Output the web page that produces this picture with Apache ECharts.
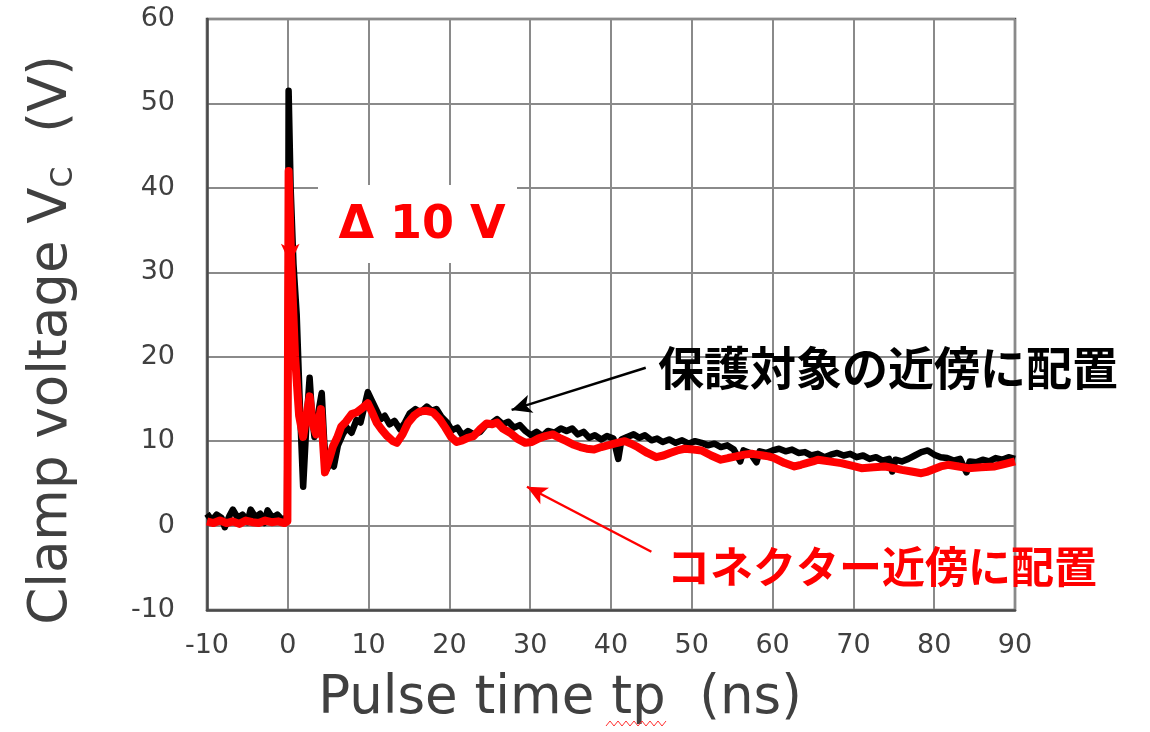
<!DOCTYPE html>
<html>
<head>
<meta charset="utf-8">
<script src="https://cdn.jsdelivr.net/npm/echarts@6/dist/echarts.min.js"></script>
<style>html,body{margin:0;padding:0;background:#fff}#c{width:1150px;height:732px}</style>
</head>
<body>
<div id="c"></div>
<script>
// ---- data ----
const xTicks = [-10, 0, 10, 20, 30, 40, 50, 60, 70, 80, 90];
const yTicks = [-10, 0, 10, 20, 30, 40, 50, 60];

const blackName = '保護対象の近傍に配置';
const redName = 'コネクター近傍に配置';

const blackTime = [-10,-9.4,-8.8,-8.2,-7.8,-7.2,-6.8,-6.2,-5.6,-5.0,-4.6,-4.0,-3.4,-2.9,-2.5,-1.9,-1.3,-0.7,-0.1,0.05,0.1,0.35,0.7,1.1,1.5,1.9,2.3,2.7,3.0,3.3,3.8,4.2,4.5,4.8,5.3,5.7,6.2,6.8,7.3,7.9,8.5,9.0,9.5,9.9,10.4,11.0,11.5,12.0,12.6,13.2,13.9,14.5,15.1,15.8,16.4,17.2,17.8,18.4,19.0,19.7,20.3,21.0,21.6,22.3,23.0,23.8,24.5,25.2,25.9,26.6,27.3,28.0,28.7,29.4,30.1,30.8,31.5,32.2,33.0,33.8,34.5,35.2,35.9,36.6,37.3,38.0,38.8,39.5,40.3,40.9,41.3,42.0,42.8,43.5,44.2,45.0,45.7,46.4,47.2,48.0,48.8,49.6,50.4,51.2,52.0,52.8,53.6,54.4,55.2,56.0,56.4,57.2,58.0,58.4,59.2,60.0,60.8,61.6,62.4,63.2,64.0,64.8,65.6,66.4,67.2,68.0,68.8,69.6,70.4,71.2,72.0,72.8,73.6,74.4,74.8,75.2,76.0,76.8,77.6,78.4,79.2,80.0,80.8,81.6,82.4,83.2,84.0,84.4,85.2,86.0,86.8,87.6,88.4,89.2,90.0];
const blackVolt = [1.4,0.6,1.3,0.9,-0.2,1.2,1.9,0.9,1.3,0.4,1.9,1.0,1.4,0.3,1.8,0.9,1.3,0.7,1.0,30,51.5,40,31,25,14,4.6,12,17.5,13,10.5,13.5,15.7,10,6.6,7.5,7.0,9.5,10.8,11.6,11.0,12.5,12.2,14.2,15.8,14.8,13.6,12.6,13.0,12.0,12.4,11.4,12.2,13.3,13.8,13.4,14.1,13.6,13.8,12.9,12.2,11.3,11.6,10.7,11.2,10.8,11.1,11.9,12.1,12.6,12.0,12.3,11.6,11.9,11.2,10.7,11.1,10.6,11.2,11.0,11.5,11.2,11.5,10.8,11.1,10.4,10.7,10.2,10.6,10.3,7.9,10.2,10.5,10.8,10.4,10.7,10.1,10.3,9.9,10.2,9.8,10.1,9.7,10.0,9.8,9.5,9.7,9.3,9.5,9.0,7.6,8.9,8.6,7.5,8.8,8.6,8.9,9.1,8.8,9.0,8.6,8.7,8.3,8.5,8.1,8.4,8.6,8.3,8.5,8.1,8.3,7.9,8.1,7.7,7.9,6.4,7.8,7.6,7.9,8.3,8.7,8.9,8.4,8.1,8.0,7.7,7.9,6.3,7.6,7.5,7.8,7.6,8.0,7.8,8.1,7.9];

const redTime = [-10,-9.2,-8.4,-7.6,-6.8,-6,-5.2,-4.4,-3.6,-2.8,-2,-1.2,-0.4,-0.05,0.1,0.4,0.9,1.4,1.9,2.3,2.7,3.1,3.5,4.1,4.6,5.1,5.6,6.1,6.6,7.2,7.9,8.5,9.2,9.9,10.5,11.0,11.6,12.3,13.0,13.5,14.2,14.9,15.6,16.3,17.1,18.0,18.8,19.5,20.2,20.9,21.6,22.3,23.0,23.8,24.6,25.3,25.9,26.6,27.5,28.4,29.4,30.2,31.0,31.9,32.8,33.6,34.5,35.3,36.2,37.0,37.9,38.8,39.6,40.4,41.7,42.5,43.3,44.5,45.6,46.5,47.3,48.2,49.1,50.2,51.2,52.4,53.6,54.5,55.5,56.5,57.4,58.1,58.8,59.5,60.2,61.5,62.7,63.5,64.2,65.0,65.6,67.0,68.5,69.8,71.0,72.5,73.9,75.0,76.0,77.2,78.4,79.2,80.0,80.8,81.7,83.0,84.2,85.8,87.5,88.8,90.0];
const redVolt = [0.5,0.3,0.6,0.3,0.5,0.2,0.6,0.4,0.3,0.6,0.4,0.5,0.3,0.5,42,32,20,13,10.5,13,15.3,12,10.8,13.8,6.3,7.8,9.4,10.4,11.7,12.3,13.2,13.4,13.9,14.5,13.3,12.2,11.4,10.6,10.0,9.8,10.8,12.2,13.0,13.5,13.6,13.4,12.6,11.6,10.5,9.9,10.1,10.4,10.6,11.4,12.1,12.0,12.2,11.5,11.0,10.3,9.8,9.9,10.3,10.6,10.8,10.4,10.0,9.6,9.3,9.1,9.0,9.3,9.5,9.7,10.0,9.7,9.3,8.6,8.1,8.3,8.6,8.9,9.1,9.0,8.9,8.3,7.8,8.0,8.2,8.4,8.5,8.4,8.3,8.2,8.0,7.4,7.0,7.2,7.4,7.6,7.8,7.6,7.4,7.1,6.8,6.9,7.0,6.8,6.6,6.4,6.2,6.4,6.7,7.0,7.2,7.0,6.8,6.9,7.0,7.3,7.6];

// annotation arrows (data coordinates: [time, volt])
const deltaArrow = [[0.3, 42], [0.3, 31]];
const blackArrow = [[44.3, 18.7], [27.7, 13.7]];
const redArrow = [[45.0, -3.1], [29.6, 4.6]];
const deltaText = 'Δ 10 V';

// ---- chart ----
const pairs = (t, v) => t.map((x, i) => [x, v[i]]);
const chart = echarts.init(document.getElementById('c'), null, {renderer: 'canvas'});

const squiggle = [];
for (let i = 0; i <= 15; i++) squiggle.push([606 + i * 4, i % 2 ? 721 : 726]);

chart.setOption({
  animation: false,
  backgroundColor: '#fff',
  grid: {left: 207, right: 135, top: 19, bottom: 122, show: true, borderColor: '#4a4a4a', borderWidth: 2.5, containLabel: false},
  xAxis: {
    type: 'value', min: xTicks[0], max: xTicks[xTicks.length - 1], interval: 10,
    axisLine: {show: true, onZero: false, lineStyle: {color: '#4a4a4a', width: 2.5}},
    axisTick: {show: false},
    splitLine: {show: true, lineStyle: {color: '#8a8a8a', width: 2}},
    axisLabel: {color: '#404040', fontFamily: 'DejaVu Sans', fontSize: 27, margin: 22, showMinLabel: true, showMaxLabel: true}
  },
  yAxis: {
    type: 'value', min: yTicks[0], max: yTicks[yTicks.length - 1], interval: 10,
    axisLine: {show: true, onZero: false, lineStyle: {color: '#4a4a4a', width: 2.5}},
    axisTick: {show: false},
    splitLine: {show: true, lineStyle: {color: '#8a8a8a', width: 2}},
    axisLabel: {color: '#404040', fontFamily: 'DejaVu Sans', fontSize: 27, margin: 32, showMinLabel: true, showMaxLabel: true}
  },
  series: [
    {
      name: blackName, type: 'line', data: pairs(blackTime, blackVolt),
      showSymbol: false, silent: true, z: 2,
      lineStyle: {color: '#000', width: 6.5, join: 'round'},
      markLine: {
        silent: true, symbol: ['none', 'arrow'], symbolSize: [14, 20],
        label: {show: false},
        lineStyle: {color: '#000', width: 2.5, type: 'solid'},
        data: [[{coord: blackArrow[0]}, {coord: blackArrow[1]}]]
      }
    },
    {
      name: redName, type: 'line', data: pairs(redTime, redVolt),
      showSymbol: false, silent: true, z: 3,
      lineStyle: {color: '#ff0000', width: 8, join: 'round'},
      markLine: {
        silent: true, symbol: ['none', 'arrow'], symbolSize: [14, 20],
        label: {show: false},
        lineStyle: {color: '#ff0000', width: 2.5, type: 'solid'},
        data: [
          [{coord: redArrow[0]}, {coord: redArrow[1]}],
          [{coord: deltaArrow[0]}, {coord: deltaArrow[1]}]
        ]
      }
    }
  ],
  graphic: [
    {type: 'rect', z: 50, shape: {x: 318, y: 185, width: 199, height: 78}, style: {fill: '#ffffff'}},
    {type: 'text', z: 51, x: 422, y: 226,
      style: {text: deltaText, fill: '#ff0000', font: 'bold 46px "DejaVu Sans"', align: 'center', verticalAlign: 'middle', textAlign: 'center', textVerticalAlign: 'middle'}},
    {type: 'text', z: 51, x: 658, y: 368,
      style: {text: blackName, fill: '#000000', font: 'bold 46px "Noto Sans CJK JP"', align: 'left', verticalAlign: 'middle', textAlign: 'left', textVerticalAlign: 'middle'}},
    {type: 'text', z: 51, x: 667, y: 567,
      style: {text: redName, fill: '#ff0000', font: 'bold 43px "Noto Sans CJK JP"', align: 'left', verticalAlign: 'middle', textAlign: 'left', textVerticalAlign: 'middle'}},
    {type: 'text', z: 51, x: 560, y: 699,
      style: {text: 'Pulse time tp  (ns)', fill: '#404040', font: '53px "DejaVu Sans"', align: 'center', verticalAlign: 'middle', textAlign: 'center', textVerticalAlign: 'middle'}},
    {type: 'polyline', z: 51, shape: {points: squiggle}, style: {stroke: '#ff3030', lineWidth: 1, fill: null}},
    {type: 'text', z: 51, x: 48, y: 340, rotation: Math.PI / 2,
      style: {
        text: '{a|Clamp voltage V}{s|C}{a|  (V)}',
        align: 'center', verticalAlign: 'middle', textAlign: 'center', textVerticalAlign: 'middle',
        rich: {
          a: {fontFamily: 'DejaVu Sans', fontSize: 53, fill: '#404040', color: '#404040', verticalAlign: 'bottom', lineHeight: 62},
          s: {fontFamily: 'DejaVu Sans', fontSize: 30, fill: '#404040', color: '#404040', verticalAlign: 'bottom', lineHeight: 62}
        }
      }}
  ]
});
</script>
</body>
</html>
